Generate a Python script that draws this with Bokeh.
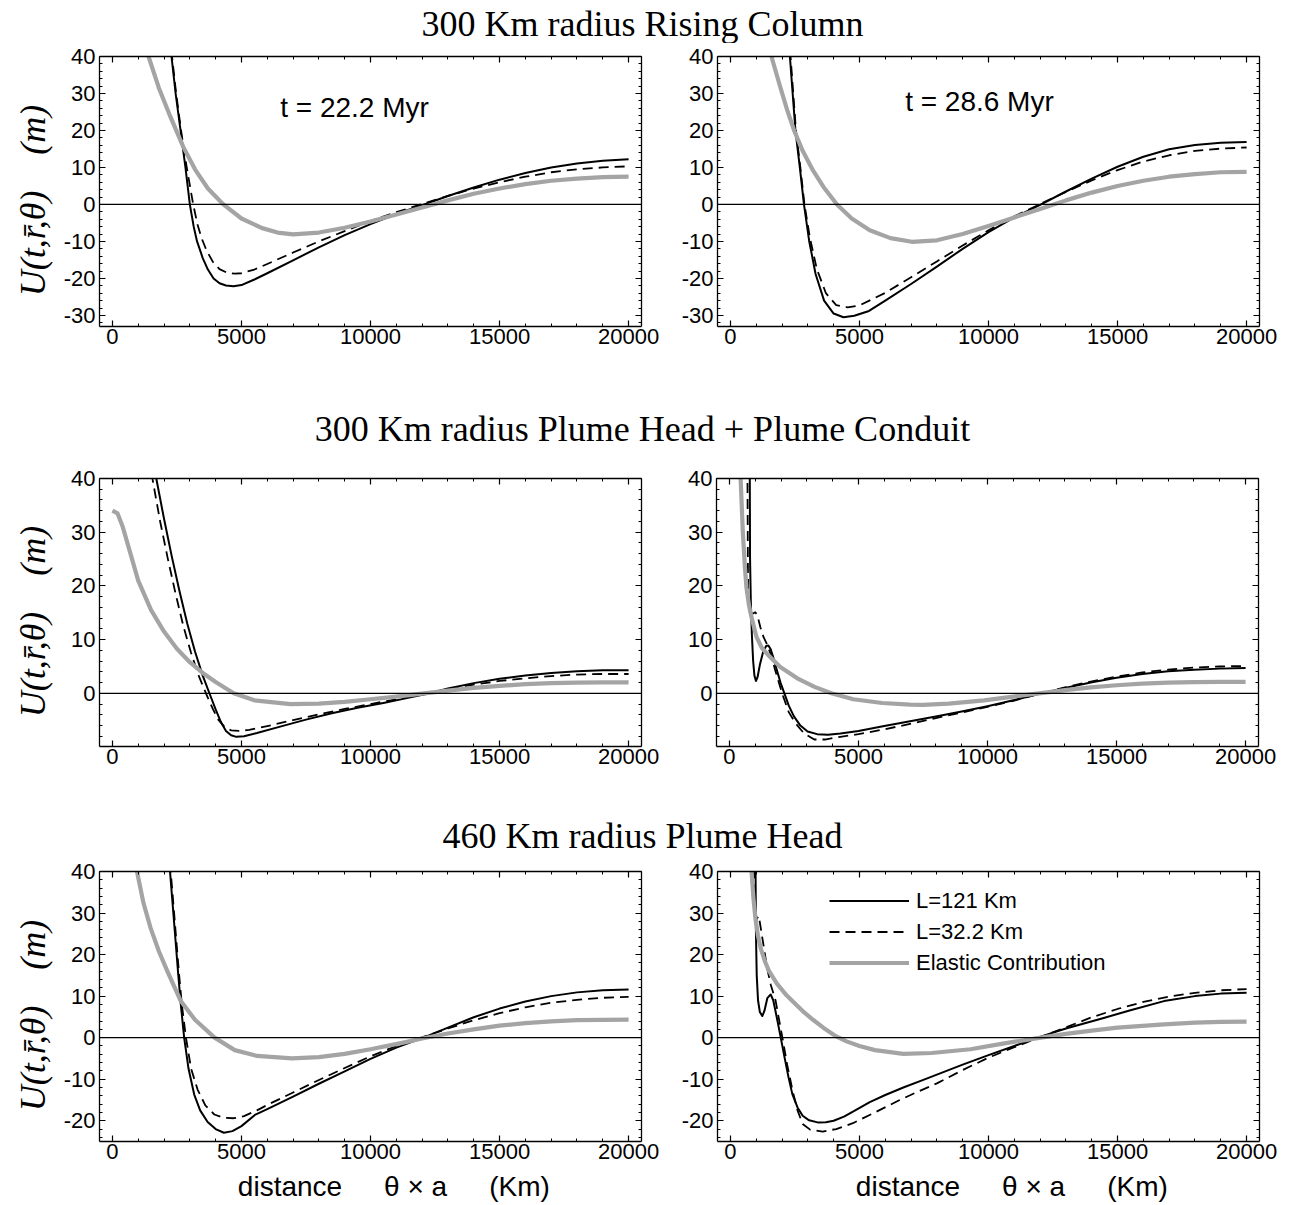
from bokeh.plotting import figure
from bokeh.layouts import column, row
from bokeh.models import Range1d, LinearAxis, FixedTicker, Legend, LegendItem, Label, Span
from bokeh.core.properties import value
from bokeh.embed import file_html
from bokeh.resources import INLINE

# ---------------- data ----------------
row_titles = ["300 Km radius Rising Column",
              "300 Km radius Plume Head + Plume Conduit",
              "460 Km radius Plume Head"]
time_labels = ["t = 22.2 Myr", "t = 28.6 Myr"]
legend_labels = ["L=121 Km", "L=32.2 Km", "Elastic Contribution"]
x_major = [0, 5000, 10000, 15000, 20000]
x_minor = list(range(0, 20001, 1000))

# panel 1 : rising column, t = 22.2 Myr
p1_sx = [2200, 2290, 2450, 2640, 2830, 3000, 3150, 3280, 3500, 3700, 3920, 4150, 4400, 4690, 5000, 5500, 6000,
         7000, 8000, 9000, 10000, 11000, 12000, 13000, 14000, 15000, 16000, 17000, 18000, 19000, 20000]
p1_sy = [46, 40, 30, 20, 10, 0, -6, -10, -14.5, -17.6, -20, -21.3, -21.9, -22.1, -21.8, -20.3, -18.6,
         -15.1, -11.6, -8.3, -5.3, -2.6, -0.2, 2.3, 4.6, 6.7, 8.5, 10, 11.1, 11.8, 12.2]
p1_dx = [2220, 2310, 2470, 2660, 2880, 3130, 3300, 3450, 3650, 3900, 4150, 4450, 4750, 5000, 5500, 6000, 7000,
         8000, 9000, 10000, 11000, 12000, 13000, 14000, 15000, 16000, 17000, 18000, 19000, 20000]
p1_dy = [46, 40, 30, 20, 10, 0, -5.5, -9, -12.5, -15.6, -17.5, -18.5, -18.7, -18.6, -17.6, -16.1, -13,
         -10, -7.2, -4.5, -2.1, 0.1, 2.3, 4.3, 6, 7.5, 8.7, 9.5, 10.0, 10.3]
p1_gx = [1300, 1400, 1800, 2200, 2750, 3200, 3700, 4300, 5000, 5800, 6400, 7000, 8000, 9000, 10000, 11000, 12000,
         13000, 14000, 15000, 16000, 17000, 18000, 19000, 20000]
p1_gy = [42, 40, 31.5, 24.5, 15.5, 9.5, 4.3, 0, -3.8, -6.4, -7.6, -8.1, -7.6, -6.3, -4.6, -2.7, -0.8,
         1.1, 2.9, 4.3, 5.5, 6.4, 7.0, 7.4, 7.5]

# panel 2 : rising column, t = 28.6 Myr
p2_sx = [2200, 2305, 2520, 2690, 2850, 3050, 3300, 3630, 4000, 4380, 4800, 5370, 6000, 7000, 8000, 9000, 10000,
         11000, 12000, 13000, 14000, 15000, 16000, 17000, 18000, 19000, 20000]
p2_sy = [46, 40, 20, 10, 0, -9.8, -18.8, -26, -29.5, -30.5, -30.1, -28.8, -26, -21.5, -16.8, -12, -7.5,
         -3.5, -0.1, 3.5, 7, 10.2, 12.9, 14.9, 16.1, 16.7, 16.9]
p2_dx = [2230, 2330, 2540, 2710, 2870, 3080, 3350, 3700, 4100, 4540, 5000, 6000, 7000, 8000, 9000, 10000, 11000,
         12000, 13000, 14000, 15000, 16000, 17000, 18000, 19000, 20000]
p2_dy = [46, 40, 20, 10, 0, -9, -17.5, -24, -27.2, -27.8, -27.3, -23.9, -19.7, -15.4, -11.1, -7, -3.2,
         0.1, 3.4, 6.5, 9.3, 11.6, 13.3, 14.5, 15.1, 15.4]
p2_gx = [1500, 1590, 1900, 2200, 2470, 2800, 3200, 3600, 4130, 4700, 5400, 6200, 7030, 8000, 9000, 10000, 11000,
         12000, 13000, 14000, 15000, 16000, 17000, 18000, 19000, 20000]
p2_gy = [43, 40, 32.5, 25.5, 20, 14.5, 9.2, 4.8, 0, -3.8, -7, -9.1, -10.1, -9.7, -8, -5.8, -3.5,
         -1.2, 1.1, 3.2, 5, 6.4, 7.5, 8.2, 8.7, 8.8]

# panel 3 : plume head + conduit, left
p3_sx = [1550, 1700, 2000, 2300, 2600, 2900, 3200, 3500, 3800, 4000, 4200, 4400, 4600, 4800, 5100, 5600, 6500,
         7500, 8500, 9500, 10500, 11500, 12300, 13000, 14000, 15000, 16000, 17000, 18000, 19000, 20000]
p3_sy = [44, 40, 32.5, 25.5, 19, 13, 7.8, 3.3, -0.5, -3, -5.3, -7, -7.8, -8.1, -8.0, -7.4, -6.2,
         -4.9, -3.7, -2.7, -1.8, -0.8, 0, 0.9, 1.9, 2.7, 3.3, 3.8, 4.1, 4.3, 4.3]
p3_dx = [1400, 1550, 1850, 2150, 2450, 2750, 3050, 3350, 3650, 3900, 4100, 4350, 4600, 4900, 5300, 6000, 7000,
         8000, 9000, 10000, 11000, 12000, 13000, 14000, 15000, 16000, 17000, 18000, 19000, 20000]
p3_dy = [44, 40, 32, 25, 18.5, 12.5, 7.5, 3.2, -0.3, -3, -4.9, -6.3, -6.9, -7.0, -6.8, -6.1, -5.0,
         -3.9, -2.9, -2.0, -1.1, -0.2, 0.8, 1.6, 2.3, 2.8, 3.2, 3.5, 3.6, 3.6]
p3_gx = [0, 200, 400, 700, 1000, 1500, 2000, 2500, 3000, 3500, 4000, 4700, 5500, 6900, 8000, 9000, 10000,
         11000, 12000, 13000, 14000, 15000, 16000, 17000, 18000, 19000, 20000]
p3_gy = [34, 33.5, 31, 26, 21, 15.5, 11.5, 8.3, 5.8, 3.8, 2.1, 0, -1.3, -2.0, -1.9, -1.6, -1.1,
         -0.6, -0.05, 0.5, 1.0, 1.4, 1.7, 1.9, 2.0, 2.05, 2.05]

# panel 4 : plume head + conduit, right
p4_sx = [780, 790, 800, 830, 870, 920, 970, 1030, 1090, 1180, 1300, 1420, 1510, 1600, 1720, 1840, 1980, 2130,
         2300, 2500, 2750, 3030, 3400, 3820, 4300, 5000, 6000, 7000, 8000, 9000, 10000, 11000, 12000, 13000,
         14000, 15000, 16000, 17000, 18000, 19000, 20000]
p4_sy = [60, 40, 25, 17, 11, 6, 3.3, 2.3, 3, 5.3, 7.6, 8.8, 8.9, 8.2, 6.4, 4.3, 2, 0,
         -2.3, -4.3, -6, -7.1, -7.6, -7.7, -7.5, -7.0, -6.1, -5.2, -4.3, -3.4, -2.4, -1.3, -0.1, 1.0,
         2.0, 2.9, 3.6, 4.1, 4.4, 4.6, 4.7]
p4_dx = [690, 700, 715, 730, 790, 900, 1000, 1080, 1200, 1320, 1450, 1600, 1800, 2040, 2300, 2550, 2900, 3290,
         3700, 4300, 5000, 6000, 7000, 8000, 9000, 10000, 11000, 12000, 13000, 14000, 15000, 16000, 17000,
         18000, 19000, 20000]
p4_dy = [60, 40, 25, 17, 15, 14.8, 15.1, 14.6, 12.3, 10.5, 9.2, 7.3, 3.9, 0, -3.5, -5.5, -7.5, -8.6,
         -8.6, -8.1, -7.6, -6.7, -5.7, -4.6, -3.6, -2.5, -1.4, -0.1, 1.1, 2.2, 3.1, 3.9, 4.4,
         4.8, 5.0, 5.1]
p4_gx = [420, 435, 520, 600, 660, 755, 855, 1050, 1250, 1510, 1970, 2630, 3300, 3950, 4800, 5920, 7000, 7500,
         8500, 9870, 11000, 12000, 13000, 14000, 15000, 16000, 17000, 18000, 19000, 20000]
p4_gy = [45, 40, 30, 23.5, 19.7, 16.5, 14.2, 10.5, 8.5, 7.1, 4.9, 2.8, 1.2, 0, -1.1, -1.8, -2.1, -2.15,
         -1.9, -1.3, -0.6, 0, 0.6, 1.1, 1.5, 1.8, 2.0, 2.1, 2.15, 2.15]

# panel 5 : 460 km plume head, left
p5_sx = [2150, 2232, 2400, 2550, 2650, 2780, 2950, 3170, 3400, 3690, 4000, 4320, 4650, 5000, 5520, 6000, 7000,
         8000, 9000, 10000, 11000, 12000, 13000, 14000, 15000, 16000, 17000, 18000, 19000, 20000]
p5_sy = [47, 40, 27, 15.3, 8, 0, -7.5, -13.7, -17.5, -20.3, -22, -22.9, -22.5, -21.3, -18.6, -17.2, -14.2,
         -11.1, -8.1, -5.1, -2.4, -0.1, 2.4, 4.9, 7, 8.7, 10, 10.9, 11.4, 11.6]
p5_dx = [2180, 2260, 2430, 2580, 2690, 2850, 3050, 3300, 3600, 3950, 4300, 4700, 5100, 5600, 6000, 7000, 8000,
         9000, 10000, 11000, 12000, 13000, 14000, 15000, 16000, 17000, 18000, 19000, 20000]
p5_dy = [46, 40, 27, 15.5, 8, 0, -7.5, -12.5, -16.3, -18.5, -19.3, -19.4, -18.9, -17.5, -16.2, -13.2, -10.2,
         -7.3, -4.5, -2.0, 0.1, 2.2, 4.2, 5.9, 7.3, 8.4, 9.1, 9.6, 9.8]
p5_gx = [880, 953, 1200, 1475, 1800, 2128, 2650, 3200, 3960, 4740, 5600, 6960, 8000, 9000, 10000, 11270, 12000,
         13000, 14000, 15000, 16000, 17000, 18000, 19000, 20000]
p5_gy = [44, 40, 32.5, 26.5, 20.8, 16, 8.8, 4.3, 0, -3.0, -4.4, -5.0, -4.7, -3.9, -2.8, -1.2, -0.2,
         1.0, 2.0, 2.9, 3.5, 3.9, 4.2, 4.3, 4.35]

# panel 6 : 460 km plume head, right
p6_sx = [965, 975, 990, 1020, 1070, 1140, 1235, 1320, 1430, 1560, 1660, 1760, 1850, 1950, 2100, 2250, 2400,
         2600, 2800, 3050, 3380, 3700, 4000, 4400, 4800, 5400, 6000, 6700, 7500, 8000, 9000, 10000, 11000,
         11900, 13000, 14500, 15500, 16800, 18000, 19000, 20000]
p6_sy = [60, 40, 25, 15, 9, 6.2, 5.2, 6.5, 9.5, 10.4, 9, 6, 3.2, 0, -4.8, -9.5, -13.6,
         -16.8, -18.8, -19.9, -20.4, -20.35, -20.0, -19.0, -17.6, -15.5, -13.8, -12.0, -10.1, -8.9, -6.5, -4.2,
         -2.0, 0, 2.2, 4.8, 6.6, 8.8, 10.0, 10.6, 10.8]
p6_dx = [900, 915, 950, 990, 1040, 1100, 1160, 1300, 1430, 1560, 1660, 1755, 1880, 2015, 2200, 2400, 2600,
         2800, 3100, 3575, 4100, 4745, 5500, 6500, 7300, 8000, 9000, 10000, 11000, 12000, 13000, 14000, 15000,
         16000, 17000, 18000, 19000, 20000]
p6_dy = [60, 40, 31.5, 28, 28.8, 29.3, 27, 21.6, 16.5, 12.8, 10.8, 8.8, 4.5, 0, -6.5, -12.5, -17.5,
         -20.8, -22.2, -22.6, -22.0, -20.6, -18.3, -15.2, -12.9, -11.0, -7.8, -4.8, -2.3, 0.1, 2.5, 4.9, 6.9,
         8.6, 9.9, 10.8, 11.4, 11.7]
p6_gx = [800, 820, 900, 975, 1070, 1170, 1330, 1500, 1800, 2145, 2500, 2800, 3200, 3600, 4100, 4500, 5000,
         5600, 6700, 7800, 9300, 10500, 11900, 13000, 14000, 15000, 16800, 18000, 19000, 20000]
p6_gy = [50, 40, 33, 28.4, 24.5, 21.6, 18.5, 16, 13, 10.4, 8.2, 6.4, 4.3, 2.4, 0.3, -0.9, -2.0,
         -3.0, -3.9, -3.7, -2.8, -1.5, -0.1, 0.9, 1.7, 2.4, 3.2, 3.6, 3.8, 3.85]

# ---------------- styling helpers ----------------
TICK_FONT = "Liberation Sans"
GREY = "#a4a4a4"


def style_axis(ax, show_labels):
    ax.axis_line_color = "black"
    ax.axis_line_width = 1.3
    ax.major_tick_in = 6
    ax.major_tick_out = 0
    ax.minor_tick_in = 3
    ax.minor_tick_out = 0
    ax.major_tick_line_color = "black"
    ax.major_tick_line_width = 1.2
    ax.minor_tick_line_color = "black"
    ax.minor_tick_line_width = 1
    if show_labels:
        ax.major_label_text_font = TICK_FONT
        ax.major_label_text_font_size = "22px"
        ax.major_label_text_color = "black"
        ax.major_label_overrides = {t: str(t) for t in ax.ticker.ticks}
    else:
        ax.major_label_overrides = {t: "" for t in ax.ticker.ticks}
        ax.major_label_text_font_size = "0px"
        ax.major_label_standoff = 0


def make_panel(frame_h, y_lo, y_hi, y_major, y_minor, borders, curves,
               ylabel=None, ylabel_standoff=10, xlabel=None):
    bl, br, bt, bb = borders
    p = figure(frame_width=542, frame_height=frame_h,
               x_range=Range1d(-500, 20500), y_range=Range1d(y_lo, y_hi),
               output_backend="svg", toolbar_location=None, title=None,
               min_border_left=bl, min_border_right=br, min_border_top=bt, min_border_bottom=bb)
    p.xgrid.visible = False
    p.ygrid.visible = False
    p.outline_line_color = None
    p.background_fill_color = "white"
    p.border_fill_color = "white"

    bx = p.below[0]
    ly = p.left[0]
    bx.ticker = FixedTicker(ticks=x_major, minor_ticks=x_minor)
    ly.ticker = FixedTicker(ticks=y_major, minor_ticks=y_minor)
    bx.major_label_standoff = 2
    ly.major_label_standoff = 4
    style_axis(bx, True)
    style_axis(ly, True)
    top = LinearAxis(ticker=FixedTicker(ticks=x_major, minor_ticks=x_minor))
    right = LinearAxis(ticker=FixedTicker(ticks=y_major, minor_ticks=y_minor))
    style_axis(top, False)
    style_axis(right, False)
    p.add_layout(top, "above")
    p.add_layout(right, "right")

    if ylabel:
        ly.axis_label = ylabel
        ly.axis_label_text_font = "Liberation Serif"
        ly.axis_label_text_font_style = "italic"
        ly.axis_label_text_font_size = "36px"
        ly.axis_label_text_color = "black"
        ly.axis_label_standoff = ylabel_standoff
    if xlabel:
        bx.axis_label = xlabel
        bx.axis_label_text_font = "Liberation Sans"
        bx.axis_label_text_font_style = "normal"
        bx.axis_label_text_font_size = "28px"
        bx.axis_label_text_color = "black"
        bx.axis_label_standoff = 9

    (sx, sy), (dx, dy), (gx, gy) = curves
    r_s = p.line(sx, sy, line_color="black", line_width=2, line_join="round")
    r_d = p.line(dx, dy, line_color="black", line_width=1.8, line_dash="10 6", line_join="round")
    r_g = p.line(gx, gy, line_color=GREY, line_width=4.2, line_join="round")
    p.add_layout(Span(location=0, dimension="width", line_color="black", line_width=1.3))
    return p, (r_s, r_d, r_g)


def title_fig(h, text, center_y):
    t = figure(width=1290, height=h, x_range=Range1d(0, 1290), y_range=Range1d(h, 0),
               output_backend="svg", toolbar_location=None, min_border=0, title=None,
               x_axis_type=None, y_axis_type=None)
    t.outline_line_color = None
    t.background_fill_color = "white"
    t.border_fill_color = "white"
    t.text(x=[642], y=[center_y], text=[text], text_font=value("Liberation Serif"),
           text_font_size="36px", text_align="center", text_baseline="middle", text_color="black")
    return t


YLABEL = "U(t,r\u0304,\u03b8)\u2003(m)\u00a0\u00a0"
XLABEL = "\u00a0" * 6 + "distance\u2003\u2002\u03b8 \u00d7 a\u2003\u2002(Km)"

r1_major = [-30, -20, -10, 0, 10, 20, 30, 40]
r1_minor = list(range(-32, 41, 2))
r2_major = [0, 10, 20, 30, 40]
r2_minor = list(range(-8, 41, 2))
r3_major = [-20, -10, 0, 10, 20, 30, 40]
r3_minor = list(range(-24, 41, 2))

p1, _ = make_panel(270, -33, 40, r1_major, r1_minor, (99, 37, 13, 74),
                   ((p1_sx, p1_sy), (p1_dx, p1_dy), (p1_gx, p1_gy)), ylabel=YLABEL, ylabel_standoff=8)
p2, _ = make_panel(270, -33, 40, r1_major, r1_minor, (38, 32, 13, 74),
                   ((p2_sx, p2_sy), (p2_dx, p2_dy), (p2_gx, p2_gy)))
p3, _ = make_panel(268, -9.9, 40, r2_major, r2_minor, (99, 37, 18, 54),
                   ((p3_sx, p3_sy), (p3_dx, p3_dy), (p3_gx, p3_gy)), ylabel=YLABEL, ylabel_standoff=15)
p4, _ = make_panel(268, -9.9, 40, r2_major, r2_minor, (38, 32, 18, 54),
                   ((p4_sx, p4_sy), (p4_dx, p4_dy), (p4_gx, p4_gy)))
p5, _ = make_panel(270, -25, 40, r3_major, r3_minor, (99, 37, 13, 64),
                   ((p5_sx, p5_sy), (p5_dx, p5_dy), (p5_gx, p5_gy)), ylabel=YLABEL, ylabel_standoff=8,
                   xlabel=XLABEL)
p6, rs6 = make_panel(270, -25, 40, r3_major, r3_minor, (38, 32, 13, 64),
                     ((p6_sx, p6_sy), (p6_dx, p6_dy), (p6_gx, p6_gy)), xlabel=XLABEL)

p1.add_layout(Label(x=9380, y=26.2, text=time_labels[0], text_font="Liberation Sans", text_font_size="28px",
                    text_align="center", text_baseline="middle", text_color="black"))
p2.add_layout(Label(x=9650, y=27.8, text=time_labels[1], text_font="Liberation Sans", text_font_size="28px",
                    text_align="center", text_baseline="middle", text_color="black"))

legend = Legend(items=[LegendItem(label=lab, renderers=[r]) for lab, r in zip(legend_labels, rs6)],
                location=(112, 163), glyph_width=80, glyph_height=31, label_height=31, label_standoff=7,
                spacing=0, padding=0, margin=0, border_line_color=None, background_fill_alpha=0,
                label_text_font="Liberation Sans", label_text_font_size="22px", label_text_color="black")
p6.add_layout(legend)

t1 = title_fig(43, row_titles[0], 23)
t2 = title_fig(60, row_titles[1], 28)
t3 = title_fig(58, row_titles[2], 35)

layout = column(t1, row(p1, p2), t2, row(p3, p4), t3, row(p5, p6))

with open("out.html", "w") as f:
    f.write(file_html(layout, INLINE))
